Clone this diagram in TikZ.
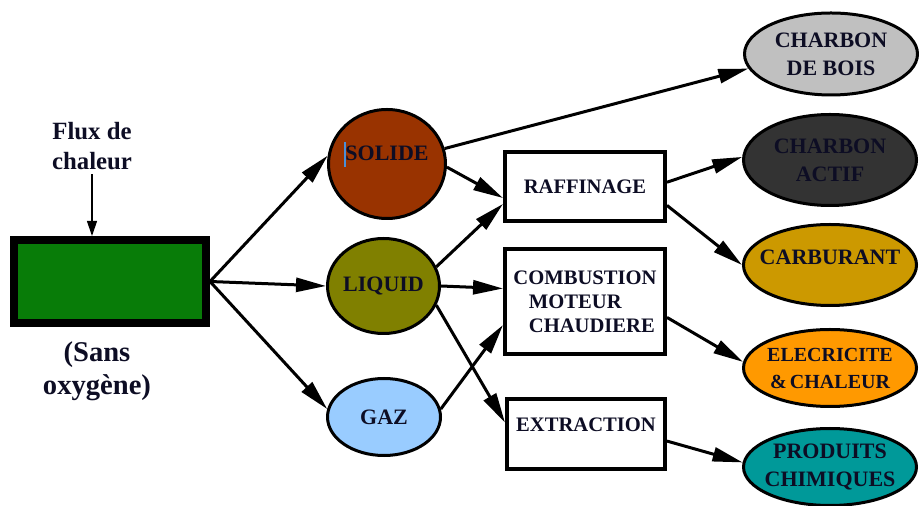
\documentclass[tikz,border=0pt]{standalone}
\usepackage{fontspec}
\setmainfont{Liberation Serif}
\usetikzlibrary{shapes.geometric,arrows.meta}
\definecolor{ink}{rgb}{0.05,0.05,0.14}
\definecolor{boxgreen}{RGB}{8,124,8}
\definecolor{solidecol}{HTML}{993300}
\definecolor{liquidcol}{HTML}{808000}
\definecolor{gazcol}{HTML}{99CCFF}
\definecolor{boiscol}{HTML}{C0C0C0}
\definecolor{actifcol}{HTML}{333333}
\definecolor{carbcol}{HTML}{CC9900}
\definecolor{eleccol}{HTML}{FF9900}
\definecolor{prodcol}{HTML}{009999}
\definecolor{cursorcol}{HTML}{4A90D9}
\begin{document}
\begin{tikzpicture}[x=0.5pt,y=-0.5pt,text=ink]
        \useasboundingbox (0,0) rectangle (919,506);

        \begin{scope}[every node/.style={align=center, font=\bfseries}]
          \node[font=\fontsize{12.4}{15}\selectfont\bfseries, inner sep=2pt] (flux) at (92,146) {Flux de\\chaleur};
          \node[font=\fontsize{14.3}{16.5}\selectfont\bfseries] (sans) at (97,371) {(Sans\\oxygène)};
          \node[draw, line width=4pt, fill=boxgreen, minimum width=96pt, minimum height=41.5pt] (src) at (110,281.5) {};
        \end{scope}

        \begin{scope}[every node/.style={ellipse, draw, line width=1.5pt, inner xsep=-6pt, inner ysep=-2pt,
            align=center, font=\fontsize{11}{14}\selectfont\bfseries}]
          \node[fill=solidecol, minimum width=58.5pt, minimum height=54.5pt, text height=7.5pt, text depth=11.2pt] (solide) at (387,164) {SOLIDE};
          \node[fill=liquidcol, minimum width=56pt, minimum height=47.5pt] (liquid) at (383.5,286) {LIQUID};
          \node[fill=gazcol, minimum width=56.5pt, minimum height=38.5pt] (gaz) at (384,417) {GAZ};
          \node[fill=boiscol, minimum width=86.5pt, minimum height=41pt] (bois) at (831,54) {CHARBON\\DE BOIS};
          \node[fill=actifcol, minimum width=86.5pt, minimum height=45.5pt] (actif) at (830,160) {CHARBON\\ACTIF};
          \node[fill=carbcol, minimum width=86.5pt, minimum height=40.5pt, text height=7.5pt, text depth=8.3pt] (carb) at (830,265) {CARBURANT};
          \node[fill=eleccol, minimum width=86.5pt, minimum height=38.5pt, font=\fontsize{10}{13.5}\selectfont\bfseries] (elec) at (830,368) {ELECRICITE\\\&\,CHALEUR};
          \node[fill=prodcol, minimum width=86.5pt, minimum height=38.5pt] (prod) at (830,467) {PRODUITS\\CHIMIQUES};
        \end{scope}

        \begin{scope}[every node/.style={rectangle, draw, line width=2pt, fill=white,
            font=\fontsize{10.3}{12}\selectfont\bfseries}]
          \node[minimum width=80pt, minimum height=34.5pt] (raff) at (585,186.5) {RAFFINAGE};
          \node[minimum width=80pt, minimum height=52.5pt, align=left] (comb) at (585,301.5)
            {COMBUSTION\\\hspace*{0.75em}MOTEUR\\\hspace*{0.75em}CHAUDIERE};
          \node[minimum width=79pt, minimum height=35pt, text height=7pt, text depth=9pt] (extr) at (586,434) {EXTRACTION};
        \end{scope}

        \draw[cursorcol, line width=0.6pt] (345,142) -- (345,167);

        \draw[line width=0.6pt, -{Triangle[length=7.5pt,width=5pt]}] (flux.south) -- (flux.south |- src.north);

        \begin{scope}[every edge/.style={draw, line width=1.5pt, -{Triangle[length=15pt,width=7pt]}}]
          \path (src.east)    edge (solide.172);
          \path (src.east)    edge (liquid.west);
          \path (src.east)    edge (gaz.172);
          \path (solide.15)   edge (bois.190);
          \path (solide.-3)   edge (raff.188);
          \path (liquid.20)   edge (raff.192);
          \path (liquid.east) edge (comb.171);
          \path (liquid.-20)  edge (extr.172);
          \path (gaz.8)       edge (comb.196);
          \path (raff.3)      edge (actif.178);
          \path (raff.-13)    edge (carb.west);
          \path (comb.-11)    edge (elec.176);
          \path (extr.-5)     edge (prod.177);
        \end{scope}

      \end{tikzpicture}
\end{document}
